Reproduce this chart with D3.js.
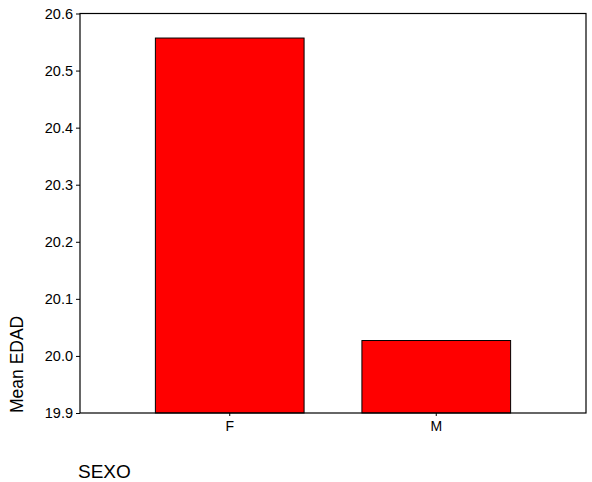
<!DOCTYPE html>
<html>
<head>
<meta charset="utf-8">
<script src="https://cdn.jsdelivr.net/npm/d3@7"></script>
<style>
  body { margin: 0; background: #fff; }
  svg text { font-family: Arial, "Liberation Sans", sans-serif; fill: #000; }
</style>
</head>
<body>
<svg id="chart" width="592" height="482"></svg>
<script>
// mean age by sex
const categories = ['F', 'M'];
const means = [20.557, 20.027];
const yTicks = [19.9, 20.0, 20.1, 20.2, 20.3, 20.4, 20.5, 20.6];

const svg = d3.select('#chart');
const plotLeft = 80, plotRight = 586, plotTop = 13.5, plotBottom = 413;

const x = d3.scaleBand()
  .domain(categories)
  .range([plotLeft, plotRight])
  .paddingInner(0.28)
  .paddingOuter(0.365);

const y = d3.scaleLinear()
  .domain([19.9, 20.6])
  .range([plotBottom, plotTop]);

// bars
svg.append('g').selectAll('rect')
  .data(categories)
  .join('rect')
  .attr('x', d => x(d))
  .attr('y', (d, i) => y(means[i]))
  .attr('width', x.bandwidth())
  .attr('height', (d, i) => plotBottom - y(means[i]))
  .attr('fill', '#ff0000')
  .attr('stroke', '#000')
  .attr('stroke-width', 1);

// frame
svg.append('rect')
  .attr('x', plotLeft).attr('y', plotTop)
  .attr('width', plotRight - plotLeft).attr('height', plotBottom - plotTop)
  .attr('fill', 'none')
  .attr('stroke', '#000')
  .attr('stroke-width', 1.2);

// y axis
const yAxis = svg.append('g')
  .attr('transform', `translate(${plotLeft},0)`)
  .call(d3.axisLeft(y).tickValues(yTicks).tickFormat(d3.format('.1f')).tickSize(4).tickPadding(3));
yAxis.select('.domain').remove();
yAxis.selectAll('text').style('font-size', '14.5px');

// x axis
const xAxis = svg.append('g')
  .attr('transform', `translate(0,${plotBottom})`)
  .call(d3.axisBottom(x).tickSize(3).tickPadding(5));
xAxis.select('.domain').remove();
xAxis.selectAll('text').style('font-size', '14px');

// axis titles
svg.append('text')
  .attr('transform', `translate(23,${plotBottom}) rotate(-90)`)
  .style('font-size', '17.5px')
  .text('Mean EDAD');

svg.append('text')
  .attr('x', 78).attr('y', 478)
  .style('font-size', '19px')
  .text('SEXO');
</script>
</body>
</html>
